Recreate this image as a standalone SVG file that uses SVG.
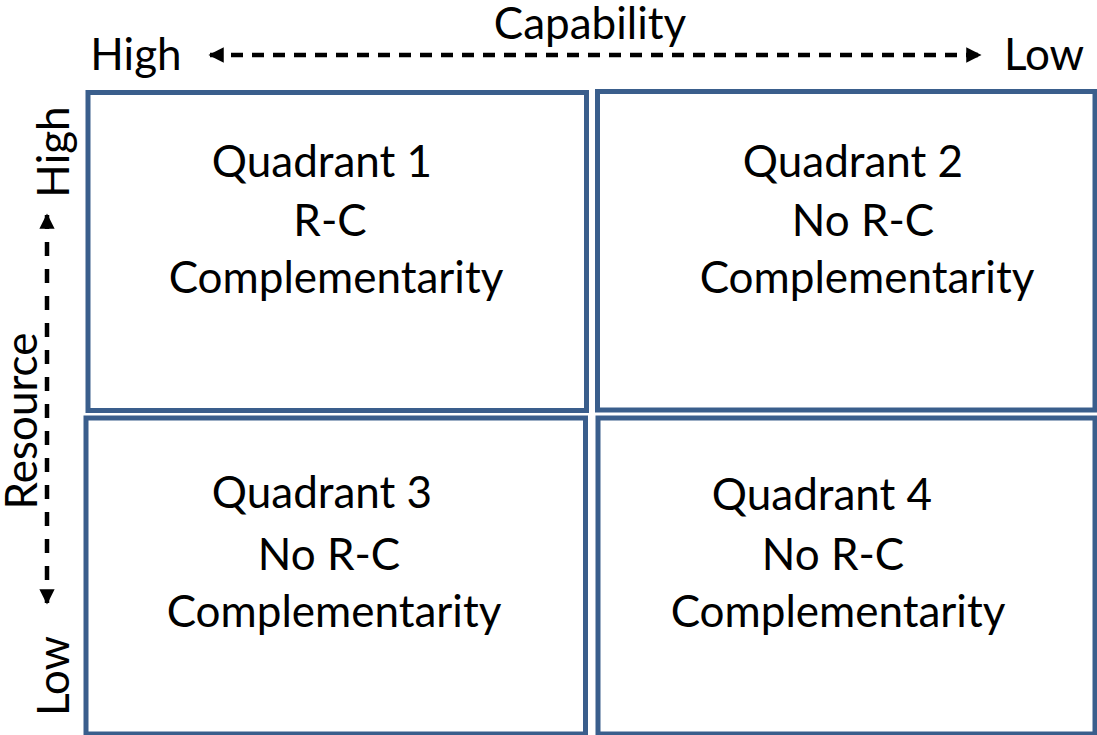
<svg xmlns="http://www.w3.org/2000/svg" width="1097" height="735" viewBox="0 0 1097 735">
  <style>
    .box { fill: #ffffff; stroke: #3a5e8c; stroke-width: 5; }
    .lbl { font-family: Lato, "Liberation Sans", sans-serif; font-size: 44px; fill: #000000; text-anchor: middle; }
    .axis { stroke: #000000; stroke-width: 4.5; fill: none; }
  </style>
  <defs>
    <marker id="tip" viewBox="0 0 10 10" refX="9" refY="5" markerWidth="3.8" markerHeight="3.4" markerUnits="strokeWidth" orient="auto-start-reverse">
      <path d="M0,0 L10,5 L0,10 z" fill="#000000"/>
    </marker>
  </defs>
  <rect width="1097" height="735" fill="#ffffff"/>

  <!-- axis captions -->
  <g id="axis-labels">
    <text class="lbl" x="590" y="39">Capability</text>
    <text class="lbl" x="136" y="70">High</text>
    <text class="lbl" x="1044" y="70">Low</text>
    <text class="lbl" transform="translate(37,421) rotate(-90)">Resource</text>
    <text class="lbl" transform="translate(69,152) rotate(-90)">High</text>
    <text class="lbl" transform="translate(69,676) rotate(-90)">Low</text>
  </g>

  <!-- dashed axis arrows -->
  <g id="connectors">
    <line class="axis" x1="210" y1="55" x2="980" y2="55" stroke-dasharray="12 9" marker-start="url(#tip)" marker-end="url(#tip)"/>
    <line class="axis" x1="47" y1="215" x2="47" y2="603" stroke-dasharray="14 13" marker-start="url(#tip)" marker-end="url(#tip)"/>
  </g>

  <g id="quadrant-1">
    <rect class="box" x="88" y="92.5" width="498.5" height="318"/>
    <text class="lbl" x="322" y="177">Quadrant 1</text>
    <text class="lbl" x="330" y="236">R-C</text>
    <text class="lbl" x="336" y="293">Complementarity</text>
  </g>

  <g id="quadrant-2">
    <rect class="box" x="597.5" y="91.5" width="497.5" height="318.5"/>
    <text class="lbl" x="853" y="177">Quadrant 2</text>
    <text class="lbl" x="863" y="236">No R-C</text>
    <text class="lbl" x="867" y="293">Complementarity</text>
  </g>

  <g id="quadrant-3">
    <rect class="box" x="86" y="418" width="499.5" height="316"/>
    <text class="lbl" x="322" y="508">Quadrant 3</text>
    <text class="lbl" x="329" y="570">No R-C</text>
    <text class="lbl" x="334" y="627">Complementarity</text>
  </g>

  <g id="quadrant-4">
    <rect class="box" x="598" y="418" width="497" height="316"/>
    <text class="lbl" x="822" y="510">Quadrant 4</text>
    <text class="lbl" x="833" y="570">No R-C</text>
    <text class="lbl" x="838" y="627">Complementarity</text>
  </g>
</svg>
